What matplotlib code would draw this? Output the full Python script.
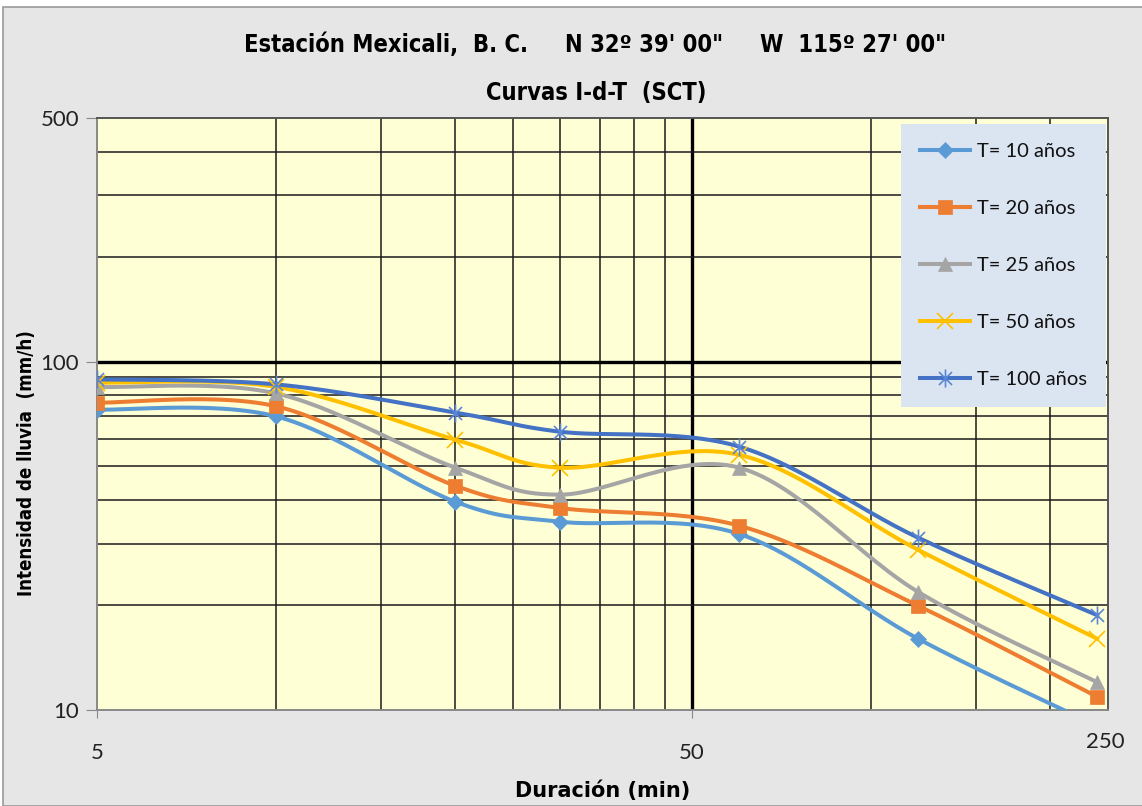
import numpy as np
import matplotlib
matplotlib.use("Agg")
import matplotlib.pyplot as plt
from matplotlib.lines import Line2D
from matplotlib.patches import Rectangle
from matplotlib.path import Path
import matplotlib.transforms as mtransforms

# --- data -------------------------------------------------------------
durations = [5, 10, 20, 30, 60, 120, 240]          # min
i_t10 = [72.8, 69.6, 39.6, 34.7, 32.0, 16.0, 9.0]   # mm/h
i_t20 = [76.2, 74.4, 44.0, 38.0, 33.8, 19.9, 10.9]
i_t25 = [84.5, 81.0, 49.6, 41.5, 49.6, 21.8, 12.0]
i_t50 = [87.0, 84.6, 59.7, 49.6, 54.0, 28.8, 16.0]
i_t100 = [88.9, 86.0, 71.4, 62.9, 57.0, 31.2, 18.7]
series_labels = ["T= 10 años", "T= 20 años", "T= 25 años", "T= 50 años", "T= 100 años"]

x_ticks = [5, 50]
x_tick_labels = ["5", "50"]
x_end_label = "250"
y_ticks = [10, 100, 500]
y_tick_labels = ["10", "100", "500"]
x_minor_grid = [10, 15, 20, 25, 30, 35, 40, 45, 100, 150, 200]
y_minor_grid = [20, 30, 40, 50, 60, 70, 80, 90, 200, 300, 400]

title1 = "Estación Mexicali,  B. C.     N 32º 39' 00\"     W  115º 27' 00\""
title2 = "Curvas I-d-T  (SCT)"

# --- styling ----------------------------------------------------------
colors = ["#5b9bd5", "#ed7d31", "#a5a5a5", "#ffc000", "#4472c4"]
marker_colors = ["#5b9bd5", "#ed7d31", "#a5a5a5", "#ffc000", "#5b86d6"]

# asterisk: vertical stroke plus two diagonals
star = Path([(0, -1), (0, 1), (-0.72, -0.72), (0.72, 0.72), (-0.72, 0.72), (0.72, -0.72)],
            [Path.MOVETO, Path.LINETO, Path.MOVETO, Path.LINETO, Path.MOVETO, Path.LINETO])
markers = ["D", "s", "^", "x", star]
msizes = [8, 10, 10, 11, 13]
line_markers = [False, False, False, True, True]
body = ["Lato", "DejaVu Sans"]

W, H = 1142, 806
fig = plt.figure(figsize=(W / 100, H / 100), dpi=100)
fig.patch.set_facecolor("white")
fig.patches.append(Rectangle((3 / W, 0), 1.2, 1 - 7 / H, transform=fig.transFigure,
                             facecolor="#e6e6e6", edgecolor="#9a9a9a", lw=1.2, zorder=-10))

ax = fig.add_axes([97 / W, (H - 710) / H, (1108 - 97) / W, (710 - 118) / H])
ax.set_facecolor("#ffffd6")
ax.set_xscale("log")
ax.set_yscale("log")
ax.set_xlim(5, 250)
ax.set_ylim(10, 500)

# grid
for xv in x_minor_grid:
    ax.axvline(xv, color="#1a1a1a", lw=1.1, zorder=1)
ax.axvline(50, color="black", lw=2.4, zorder=1)
for yv in y_minor_grid:
    ax.axhline(yv, color="#1a1a1a", lw=1.1, zorder=1)
ax.axhline(100, color="black", lw=2.4, zorder=1)

ax.set_xticks(x_ticks)
ax.set_xticklabels(x_tick_labels, fontfamily=body, fontsize=16, color="#222222")
ax.set_yticks(y_ticks)
ax.set_yticklabels(y_tick_labels, fontfamily=body, fontsize=16, color="#222222")
ax.xaxis.set_minor_locator(matplotlib.ticker.NullLocator())
ax.yaxis.set_minor_locator(matplotlib.ticker.NullLocator())
ax.tick_params(axis="x", length=6, pad=18, color="#888888")
ax.tick_params(axis="y", length=8, pad=5, color="#888888")
for s in ax.spines.values():
    s.set_color("#555555")
    s.set_linewidth(1.4)
ax.spines["left"].set_color("#888888")
ax.spines["bottom"].set_color("#888888")

# end label of the duration axis sits a little higher than the others
ax.text(250, 10, x_end_label, fontfamily=body, fontsize=16, color="#222222",
        ha="center", va="center",
        transform=ax.transData + mtransforms.ScaledTranslation(-3 / 100, -32 / 100, fig.dpi_scale_trans))

fig.canvas.draw()


def smooth_path(xs, ys, n=30):
    """Smoothed curve built in display space, returned in data space."""
    pts = ax.transData.transform(np.column_stack([xs, ys]))
    out = []
    m = len(pts)
    for i in range(m - 1):
        p0 = pts[i - 1] if i > 0 else pts[i]
        p1 = pts[i]
        p2 = pts[i + 1]
        p3 = pts[i + 2] if i + 2 < m else pts[i + 1]
        c1 = p1 + (p2 - p0) / 6.0
        c2 = p2 - (p3 - p1) / 6.0
        t = np.linspace(0, 1, n, endpoint=(i == m - 2))[:, None]
        seg = ((1 - t) ** 3) * p1 + 3 * ((1 - t) ** 2) * t * c1 + 3 * (1 - t) * t ** 2 * c2 + t ** 3 * p2
        out.append(seg)
    out = np.vstack(out)
    data = ax.transData.inverted().transform(out)
    return data[:, 0], data[:, 1]


series = [i_t10, i_t20, i_t25, i_t50, i_t100]
handles = []
for k, vals in enumerate(series):
    sx, sy = smooth_path(durations, vals)
    ax.plot(sx, sy, color=colors[k], lw=2.9, zorder=3 + k * 0.1, solid_capstyle="round")
    mew = 1.2 if line_markers[k] else 0.5
    ax.plot(durations, vals, ls="none", marker=markers[k], ms=msizes[k],
            color=marker_colors[k], mec=marker_colors[k], mew=mew, zorder=4 + k * 0.1)
    handles.append(Line2D([], [], color=colors[k], lw=2.9, marker=markers[k], ms=msizes[k],
                          mec=marker_colors[k], mfc=marker_colors[k], mew=mew))

leg = ax.legend(handles, series_labels, loc="upper left",
                bbox_to_anchor=((901 - 97) / (1108 - 97), 1 - (124 - 118) / (710 - 118)),
                frameon=True, facecolor="#dbe4f1", edgecolor="none", framealpha=1,
                fancybox=False, prop={"family": body, "size": 14.5},
                labelspacing=1.98, handlelength=2.5, handletextpad=0.3,
                borderpad=0.95, borderaxespad=0)
leg.set_zorder(10)
for t in leg.get_texts():
    t.set_color("#111111")

title_font = dict(family="DejaVu Sans", stretch="condensed", weight="bold")
fig.text(595 / W, 1 - 45 / H, title1, ha="center", va="center", fontsize=17, **title_font)
fig.text(596 / W, 1 - 93 / H, title2, ha="center", va="center", fontsize=17, **title_font)
fig.text(603 / W, 1 - 791 / H, "Duración (min)", ha="center", va="center",
         fontfamily="DejaVu Sans", fontweight="bold", fontsize=15)
fig.text(27 / W, 1 - 463 / H, "Intensidad de lluvia  (mm/h)", ha="center", va="center",
         rotation=90, fontsize=13.4, **title_font)

fig.savefig("out.png", dpi=100)
